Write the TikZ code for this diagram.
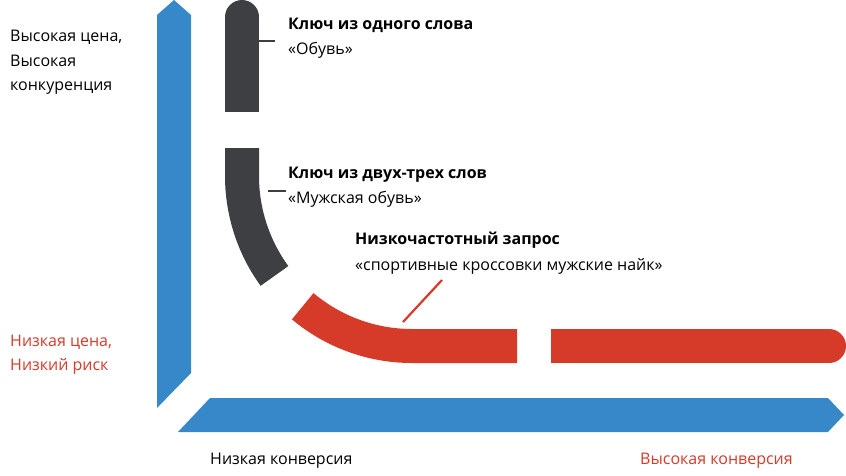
\documentclass[tikz,border=0pt]{standalone}
\usepackage{fontspec}
\setmainfont{Open Sans}
\definecolor{ablue}{HTML}{3788C8}
\definecolor{adark}{HTML}{3E3F42}
\definecolor{ared}{HTML}{D63B2A}
\begin{document}
\begin{tikzpicture}[x=1pt,y=1pt,
  bar/.style={line width=34pt,line cap=butt},
  tick/.style={line width=2.2pt},
  lbl/.style={anchor=base west,inner sep=0pt,font=\fontsize{16}{20}\selectfont},
  ttl/.style={lbl,font=\fontsize{16}{20}\selectfont\bfseries}]
\useasboundingbox (0,0) rectangle (846,-475);
\fill[white] (0,0) rectangle (846,-475);
% axes
\fill[ablue] (157,-15) -- (174,0) -- (191,-15) -- (191,-373) -- (157,-408) -- cycle;
\fill[ablue] (210,-398) -- (828,-398) -- (844,-415) -- (828,-432) -- (178,-432) -- cycle;
% bars
\draw[bar,adark] (242,-112) -- (242,-17);
\fill[adark] (242,-17) circle (17);
\draw[bar,adark] (242,-148) -- (242,-176) arc[start angle=180,end angle=216,radius=170];
\draw[bar,ared] ({412+170*cos(230)},{-176+170*sin(230)}) arc[start angle=230,end angle=270,radius=170] -- (517,-346);
\draw[bar,ared] (551,-346) -- (829,-346);
\fill[ared] (829,-346) circle (17);
% ticks
\coordinate (t1a) at (259,-41); \coordinate (t1b) at (275,-41);
\coordinate (t2a) at (268,-191); \coordinate (t2b) at (286,-191);
\coordinate (t3a) at (403,-322); \coordinate (t3b) at (442,-280);
\draw[tick,adark] (t1a) -- (t1b);
\draw[tick,adark] (t2a) -- (t2b);
\draw[tick,ared] (t3a) -- (t3b);
% texts
\node[ttl] (k1) at (288,-29) {Ключ из одного слова};
\node[lbl] (k1s) at (288,-54) {«Обувь»};
\node[ttl] (k2) at (288,-178) {Ключ из двух-трех слов};
\node[lbl] (k2s) at (288,-203) {«Мужская обувь»};
\node[ttl] (k3) at (355,-244) {Низкочастотный запрос};
\node[lbl] (k3s) at (355,-270) {«спортивные кроссовки мужские найк»};
\node[lbl] (y1) at (10,-41) {Высокая цена,};
\node[lbl] (y2) at (10,-66) {Высокая};
\node[lbl] (y3) at (10,-90) {конкуренция};
\node[lbl,text=ared] (y4) at (10,-346) {Низкая цена,};
\node[lbl,text=ared] (y5) at (10,-370) {Низкий риск};
\node[lbl] (x1) at (210,-464) {Низкая конверсия};
\node[lbl,text=ared] (x2) at (640,-464) {Высокая конверсия};
\end{tikzpicture}
\end{document}
